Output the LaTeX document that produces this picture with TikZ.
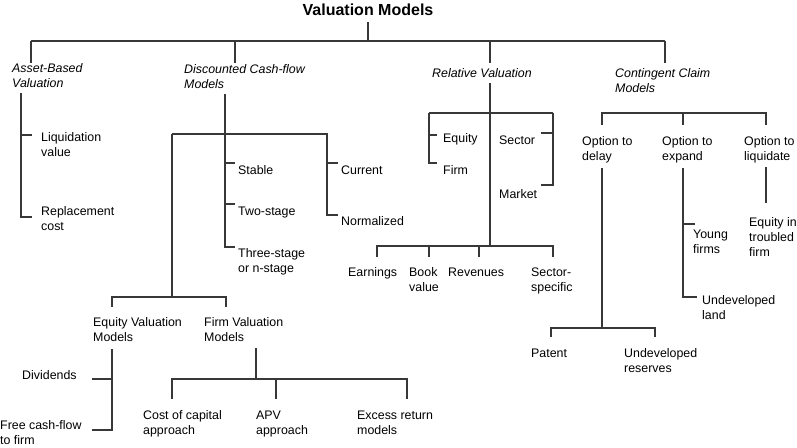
\documentclass[tikz,border=0pt]{standalone}
\usepackage{fontspec}
\setmainfont{Liberation Sans}
\tikzset{
    heading/.style = {anchor=base, inner sep=0pt, outer sep=7pt, font=\bfseries\fontsize{16}{19}\selectfont},
    approach/.style = {anchor=base west, align=left, inner sep=0pt, font=\itshape\fontsize{12.4}{15}\selectfont},
    leaf/.style = {anchor=base west, align=left, inner sep=0pt, font=\fontsize{12.4}{15}\selectfont},
    branch/.style = {draw=black!78, line width=1.1pt}
}
\begin{document}
\begin{tikzpicture}[x=1pt, y=-1pt]
\useasboundingbox (0,0) rectangle (797,447);

% nodes sit on the baseline of their last line
\node (title) [heading] at (368,15) {Valuation Models};
\node (asset) [approach] at (12,87) {Asset-Based\\Valuation};
\node (dcf) [approach] at (184,88.5) {Discounted Cash-flow\\Models};
\node (relv) [approach] at (432,77) {Relative Valuation};
\node (ccm) [approach] at (615,92) {Contingent Claim\\Models};

\node (liq) [leaf] at (41,156.5) {Liquidation\\value};
\node (repl) [leaf] at (41,230.5) {Replacement\\cost};

\node (stable) [leaf] at (238,174.5) {Stable};
\node (twostage) [leaf] at (238,215.5) {Two-stage};
\node (threestage) [leaf] at (238,272.5) {Three-stage\\or n-stage};
\node (current) [leaf] at (341,174.5) {Current};
\node (normal) [leaf] at (341,225.5) {Normalized};

\node (eqval) [leaf] at (93,341.5) {Equity Valuation\\Models};
\node (firmval) [leaf] at (204,341.5) {Firm Valuation\\Models};
\node (div) [leaf] at (22,379.5) {Dividends};
\node (fcff) [leaf] at (0,444) {Free cash-flow\\to firm};
\node (coc) [leaf] at (143,434.5) {Cost of capital\\approach};
\node (apv) [leaf] at (256,434.5) {APV\\approach};
\node (excess) [leaf] at (357,434.5) {Excess return\\models};

\node (eqrel) [leaf] at (443,142.5) {Equity};
\node (firmrel) [leaf] at (443,174.5) {Firm};
\node (sector) [leaf] at (499,144.5) {Sector};
\node (market) [leaf] at (499,198.5) {Market};
\node (earn) [leaf] at (348,276) {Earnings};
\node (book) [leaf] at (409,291) {Book\\value};
\node (rev) [leaf] at (448,276) {Revenues};
\node (secspec) [leaf] at (531,291) {Sector-\\specific};

\node (delay) [leaf] at (582,160) {Option to\\delay};
\node (expand) [leaf] at (662,160) {Option to\\expand};
\node (liquid) [leaf] at (744,160) {Option to\\liquidate};
\node (young) [leaf] at (693,253.5) {Young\\firms};
\node (land) [leaf] at (702,319.5) {Undeveloped\\land};
\node (troubled) [leaf] at (749,256.5) {Equity in\\troubled\\firm};
\node (patent) [leaf] at (531,357.5) {Patent};
\node (reserves) [leaf] at (624,372.5) {Undeveloped\\reserves};

% top level
\coordinate (top) at (368,41);
\coordinate (t1) at (31,41);
\coordinate (t2) at (235,41);
\coordinate (t3) at (490,41);
\coordinate (t4) at (665,41);
\draw [branch] (title.south) -- (top);
\draw [branch] (t1) -- (t4);
\foreach \t in {t1,t2,t3,t4}
    \draw [branch] (\t) -- (\t |- asset.north);

% asset-based
\coordinate (ab) at (21,93);
\coordinate (ab1) at (32,135);
\coordinate (ab2) at (32,217);
\draw [branch] (ab) |- (ab2);
\draw [branch] (ab |- ab1) -- (ab1);

% discounted cash-flow
\coordinate (cf0) at (225,94);
\coordinate (cf1) at (235,163);
\coordinate (cf2) at (235,204);
\coordinate (cf3) at (235,247);
\draw [branch] (cf0) |- (cf3);
\draw [branch] (cf0 |- cf1) -- (cf1);
\draw [branch] (cf0 |- cf2) -- (cf2);
\coordinate (cfl) at (172,134);
\coordinate (cfr) at (327,134);
\coordinate (cur) at (338,163);
\coordinate (nor) at (338,215);
\draw [branch] (cfl) -- (cfr) |- (nor);
\draw [branch] (cfr |- cur) -- (cur);
\coordinate (split) at (172,297);
\coordinate (ev) at (112,307);
\coordinate (fv) at (226,307);
\draw [branch] (cfl) -- (split);
\draw [branch] (ev) |- (split) -| (fv);

% equity and firm valuation
\coordinate (eq0) at (112,349);
\coordinate (dv) at (92,379);
\coordinate (fc) at (92,430);
\draw [branch] (eq0) |- (fc);
\draw [branch] (eq0 |- dv) -- (dv);
\coordinate (fm0) at (256,348);
\coordinate (fm) at (256,379);
\coordinate (coc0) at (172,399);
\coordinate (apv0) at (276,399);
\coordinate (exr0) at (407,399);
\draw [branch] (fm0) -- (fm);
\draw [branch] (coc0) |- (fm) -| (exr0);
\draw [branch] (apv0) -- (apv0 |- fm);

% relative valuation
\coordinate (rv0) at (490,83);
\coordinate (rv1) at (490,246);
\draw [branch] (rv0) -- (rv1);
\coordinate (ef) at (429,113);
\coordinate (sm) at (553,113);
\draw [branch] (ef) -- (sm);
\coordinate (eqt) at (437,135);
\coordinate (frt) at (437,163);
\draw [branch] (frt) -| (ef);
\draw [branch] (ef |- eqt) -- (eqt);
\coordinate (sct) at (541,133);
\coordinate (mkt) at (541,185);
\draw [branch] (mkt) -| (sm);
\draw [branch] (sm |- sct) -- (sct);
\coordinate (ern) at (377,257);
\coordinate (bkv) at (429,257);
\coordinate (rvn) at (479,257);
\coordinate (ssp) at (553,257);
\draw [branch] (ern) |- (rv1) -| (ssp);
\draw [branch] (bkv) -- (bkv |- rv1);
\draw [branch] (rvn) -- (rvn |- rv1);

% contingent claim
\coordinate (cc) at (683,113);
\coordinate (od) at (602,125);
\coordinate (oe) at (683,125);
\coordinate (ol) at (766,125);
\draw [branch] (od) |- (cc) -| (ol);
\draw [branch] (oe) -- (cc);
\coordinate (dl0) at (602,168);
\coordinate (dl1) at (602,328);
\coordinate (pt) at (551,337);
\coordinate (ur) at (655,337);
\draw [branch] (dl0) -- (dl1);
\draw [branch] (pt) |- (dl1) -| (ur);
\coordinate (ex0) at (683,168);
\coordinate (yf) at (695,224);
\coordinate (ul) at (697,297);
\draw [branch] (ex0) |- (ul);
\draw [branch] (ex0 |- yf) -- (yf);
\coordinate (lq0) at (766,167);
\coordinate (lq1) at (766,203);
\draw [branch] (lq0) -- (lq1);
\end{tikzpicture}
\end{document}
